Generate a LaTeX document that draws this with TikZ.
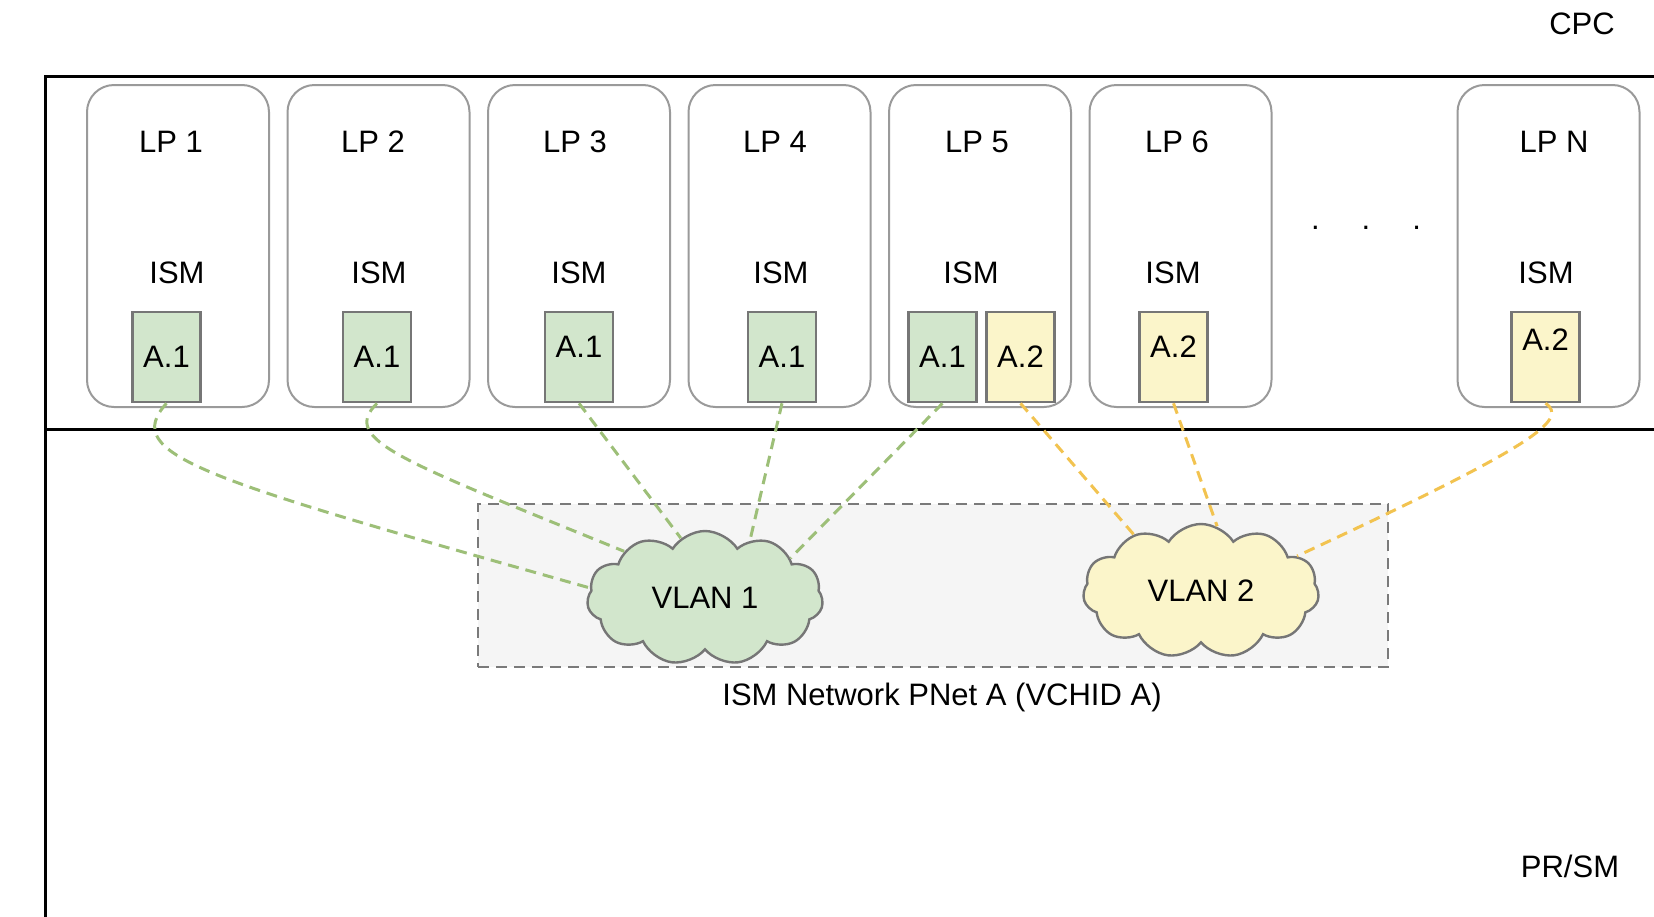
\documentclass[tikz,border=0pt]{standalone}
\usepackage{fontspec}
\setmainfont{Liberation Sans}
\usetikzlibrary{arrows,shapes.symbols}

\definecolor{ismgreen}{HTML}{D2E6CC}
\definecolor{ismyellow}{HTML}{FBF5CA}
\definecolor{linkgreen}{HTML}{9DBF78}
\definecolor{linkyellow}{HTML}{F2C350}
\definecolor{lpgray}{HTML}{9A9A9A}
\definecolor{portgray}{HTML}{767676}
\definecolor{netfill}{HTML}{F5F5F5}
\definecolor{netdraw}{HTML}{7A7A7A}

\begin{document}
\begin{tikzpicture}[x=1pt,y=-1pt,node distance=200.5pt,
                    font=\fontsize{31}{37}\selectfont]
  \tikzstyle{lpbox}=[draw=lpgray,line width=2pt,rounded corners=27pt,
                     minimum width=182pt,minimum height=322pt,inner sep=0pt]
  \tikzstyle{port}=[draw=portgray,line width=2.6pt,minimum width=68pt,
                    minimum height=90pt,inner sep=0pt]
  \tikzstyle{vlan}=[cloud,cloud puffs=11,cloud puff arc=115,cloud ignores aspect,
                    line width=2.4pt,minimum width=236pt,minimum height=134pt,inner sep=0pt]
  \tikzstyle{linkg}=[draw=linkgreen,line width=3pt,dash pattern=on 11pt off 7pt]
  \tikzstyle{linky}=[draw=linkyellow,line width=3pt,dash pattern=on 11pt off 7pt]

  \useasboundingbox (0,0) rectangle (1654,916);
  \clip (0,0) rectangle (1654,916);

  % CPC frame and PR/SM split
  \draw[line width=3pt] (1670,76) -- (45,76) -- (45,930);
  \draw[line width=3pt] (45,429) -- (1670,429);
  \node (cpc) at (1582,24) {CPC};
  \node (prsm) at (1570,866) {PR/SM};

  % logical partitions
  \node[lpbox] (lp1) at (178,246) {};
  \node[lpbox] (lp2) [right of=lp1] {};
  \node[lpbox] (lp3) [right of=lp2] {};
  \node[lpbox] (lp4) [right of=lp3] {};
  \node[lpbox] (lp5) [right of=lp4] {};
  \node[lpbox] (lp6) [right of=lp5] {};
  \node[lpbox] (lpn) at (1548.5,246) {};

  \node (lp1name) at (171,142) {LP 1};
  \node (lp2name) at (373,142) {LP 2};
  \node (lp3name) at (575,142) {LP 3};
  \node (lp4name) at (775,142) {LP 4};
  \node (lp5name) at (977,142) {LP 5};
  \node (lp6name) at (1177,142) {LP 6};
  \node (lpnname) at (1554,142) {LP N};
  \node[anchor=base] (dots) at (1366,229) {.\hspace{42pt}.\hspace{42pt}.};

  \node (lp1ism) at (177,273) {ISM};
  \node (lp2ism) at (379,273) {ISM};
  \node (lp3ism) at (579,273) {ISM};
  \node (lp4ism) at (781,273) {ISM};
  \node (lp5ism) at (971,273) {ISM};
  \node (lp6ism) at (1173,273) {ISM};
  \node (lpnism) at (1546,273) {ISM};

  % ISM ports
  \node[port,fill=ismgreen] (p1) at (166.5,357) {A.1};
  \node[port,fill=ismgreen] (p2) at (377,357) {A.1};
  \node[port,fill=ismgreen,text depth=20pt] (p3) at (579,357) {A.1};
  \node[port,fill=ismgreen] (p4) at (782,357) {A.1};
  \node[port,fill=ismgreen] (p5a) at (942.5,357) {A.1};
  \node[port,fill=ismyellow] (p5b) at (1020.5,357) {A.2};
  \node[port,fill=ismyellow,text depth=20pt] (p6) at (1173.5,357) {A.2};
  \node[port,fill=ismyellow,text depth=34pt] (pn) at (1545.5,357) {A.2};

  % ISM network
  \node[draw=netdraw,fill=netfill,line width=2.6pt,dash pattern=on 11pt off 7pt,
        minimum width=910pt,minimum height=163pt] (pnet) at (933,585.5) {};
  \node (pnetname) at (942,697) {ISM Network PNet A (VCHID A)};

  \node[vlan,fill=ismgreen,draw=portgray] (vlan1) at (705,598) {VLAN 1};
  \node[vlan,fill=ismyellow,draw=portgray] (vlan2) at (1201,591) {VLAN 2};

  \draw[linkg] (p1.south) .. controls (120,455) and (200,478) .. (vlan1.175);
  \draw[linkg] (p2.south) .. controls (340,440) and (400,460) .. (vlan1.150);
  \draw[linkg] (p3.south) -- (vlan1.112);
  \draw[linkg] (p4.south) -- (vlan1.52);
  \draw[linkg] (p5a.south) -- (vlan1.25);
  \draw[linky] (p5b.south) -- (vlan2.140);
  \draw[linky] (p6.south) -- (vlan2.76);
  \draw[linky] (pn.south) .. controls (1570,420) and (1530,448) .. (vlan2.20);
\end{tikzpicture}
\end{document}
